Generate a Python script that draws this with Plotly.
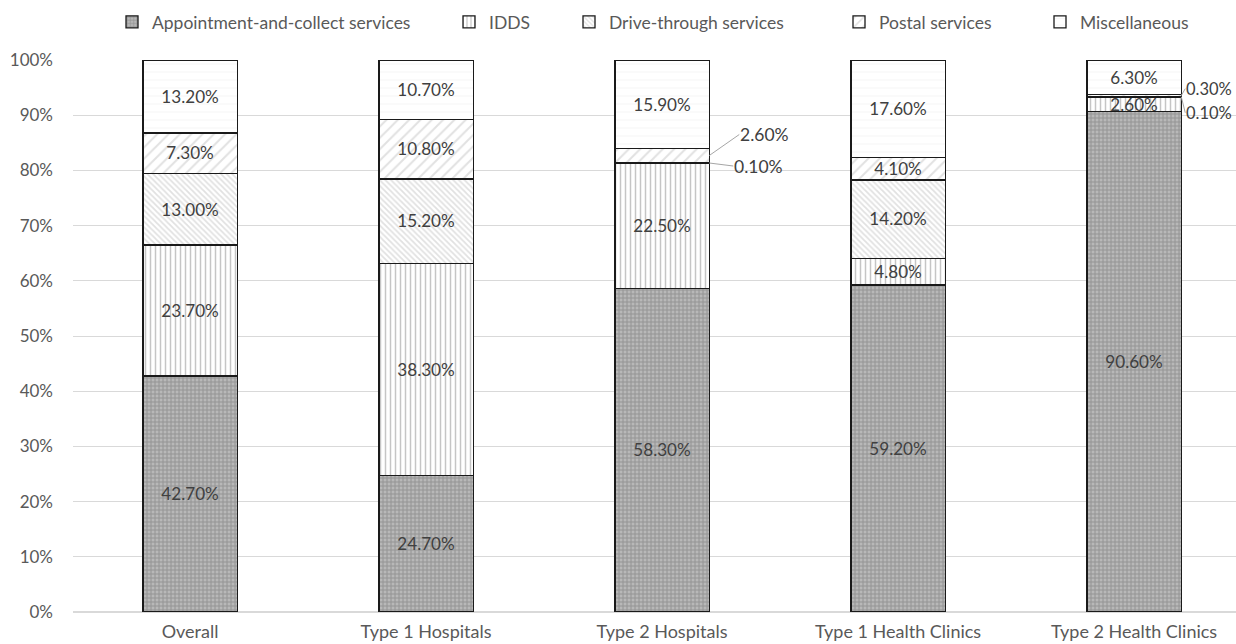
import plotly.graph_objects as go

# Share of each dispensing channel by facility type (100% stacked)
categories = ["Overall", "Type 1 Hospitals", "Type 2 Hospitals",
              "Type 1 Health Clinics", "Type 2 Health Clinics"]
series_names = ["Appointment-and-collect services", "IDDS",
                "Drive-through services", "Postal services", "Miscellaneous"]
appointment = [42.7, 24.7, 58.3, 59.2, 90.6]
idds = [23.7, 38.3, 22.5, 4.8, 2.6]
drive_through = [13.0, 15.2, 0.1, 14.2, 0.1]
postal = [7.3, 10.8, 2.6, 4.1, 0.3]
misc = [13.2, 10.7, 15.9, 17.6, 6.3]

series_values = [appointment, idds, drive_through, postal, misc]

# Segments whose labels sit outside the bar with a leader line:
# (category index, series index, pixel offset x, pixel offset y, font size)
outside_labels = [
    (2, 3, 30, -21, 17.5),
    (2, 2, 24, 3, 17.5),
    (4, 3, 4, -7, 16.5),
    (4, 2, 4, 16, 16.5),
]

patterns = [
    dict(shape="+", fgcolor="#707070", bgcolor="#b8b8b8", size=4, solidity=0.45),
    dict(shape="|", fgcolor="#8c8c8c", bgcolor="white", size=5, solidity=0.3),
    dict(shape="\\", fgcolor="#c4c4c4", bgcolor="white", size=4, solidity=0.45),
    dict(shape="/", fgcolor="#c4c4c4", bgcolor="white", size=8, solidity=0.25),
    dict(shape="-", fgcolor="#ececec", bgcolor="white", size=8, solidity=0.15),
]

# Left edge (px) of each legend entry across the top of the chart
legend_left_px = [112, 449, 569, 839, 1040]

FONT = "Lato"
W, H = 1236, 644
BAR_W = 0.4
outside_set = {(c, s) for c, s, *_ in outside_labels}

fig = go.Figure()
legend_layout = {}
for s, (name, vals) in enumerate(zip(series_names, series_values)):
    text = ["" if (c, s) in outside_set else f"{v:.2f}%" for c, v in enumerate(vals)]
    legend_id = "legend" if s == 0 else f"legend{s + 1}"
    fig.add_trace(go.Bar(
        name=name, x=categories, y=vals, width=BAR_W, legend=legend_id,
        text=text, textposition="inside", insidetextanchor="middle",
        textangle=0, textfont=dict(family=FONT, size=17.5, color="#404040"),
        marker=dict(color="white", pattern=patterns[s],
                    line=dict(color="#1a1a1a", width=1.3)),
        hoverinfo="skip",
    ))
    legend_layout[legend_id] = dict(
        orientation="h", xref="container", yref="container",
        x=legend_left_px[s] / W, y=1 - 4 / H, xanchor="left", yanchor="top",
        font=dict(family=FONT, size=17.5, color="#595959"),
        itemwidth=30, bgcolor="rgba(0,0,0,0)",
    )

# Leader-line labels for the thin segments
for c, s, ax, ay, fsize in outside_labels:
    total = sum(sv[c] for sv in series_values)
    below = sum(series_values[k][c] for k in range(s))
    mid = (below + series_values[s][c] / 2) / total * 100
    fig.add_annotation(
        x=c + BAR_W / 2, y=mid, xref="x", yref="y",
        text=f"{series_values[s][c]:.2f}%", showarrow=True, arrowhead=0,
        arrowwidth=1, arrowcolor="#a6a6a6", ax=ax, ay=ay, standoff=0,
        xanchor="left", borderpad=0,
        font=dict(family=FONT, size=fsize, color="#404040"),
    )

fig.update_layout(
    barmode="stack", barnorm="percent",
    width=W, height=H,
    margin=dict(l=73, r=0, t=60, b=32),
    plot_bgcolor="white", paper_bgcolor="white",
    font=dict(family=FONT, size=17.5, color="#595959"),
    uniformtext=dict(minsize=17, mode="show"),
    showlegend=True,
    xaxis=dict(type="category", range=[-0.496, 4.432], showgrid=False,
               showline=False, ticks="", ticklabelstandoff=7,
               tickfont=dict(family=FONT, size=18, color="#595959")),
    yaxis=dict(range=[0, 100], dtick=10, ticksuffix="%", showgrid=True,
               gridcolor="#d9d9d9", gridwidth=1, zeroline=True,
               zerolinecolor="#d9d9d9", zerolinewidth=2, ticks="",
               ticklabelstandoff=19,
               tickfont=dict(family=FONT, size=17, color="#595959")),
    **legend_layout,
)

fig.write_html("out.html")
